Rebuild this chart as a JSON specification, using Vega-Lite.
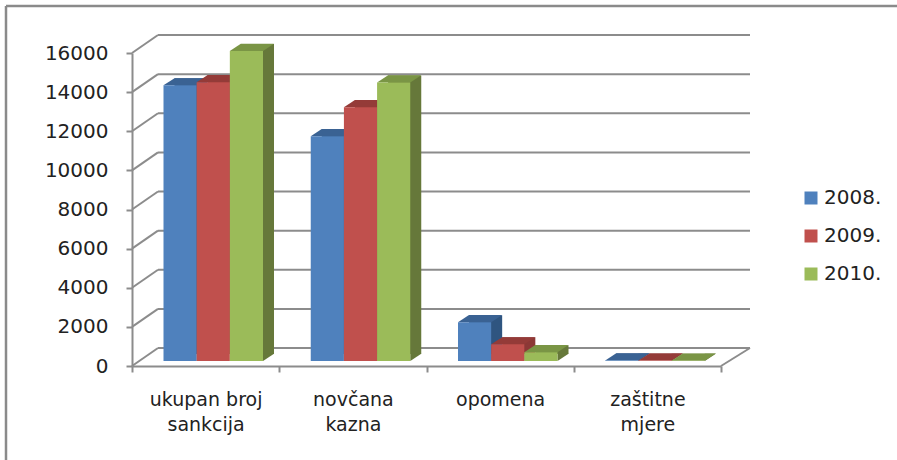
{"$schema":"https://vega.github.io/schema/vega-lite/v6.json","width":891,"height":454,"autosize":"none","padding":{"left":6,"top":6,"right":0,"bottom":0},"background":"white",
"config":{"view":{"stroke":"#8a8a8a","strokeWidth":2.5,"strokeDash":[891,1345,454,0]},"font":"DejaVu Sans"},
"datasets":{"bars":[
{"category":"ukupan broj sankcija","year":"2008.","value":14090},{"category":"ukupan broj sankcija","year":"2009.","value":14250},{"category":"ukupan broj sankcija","year":"2010.","value":15850},
{"category":"novčana kazna","year":"2008.","value":11490},{"category":"novčana kazna","year":"2009.","value":12970},{"category":"novčana kazna","year":"2010.","value":14240},
{"category":"opomena","year":"2008.","value":1980},{"category":"opomena","year":"2009.","value":850},{"category":"opomena","year":"2010.","value":450},
{"category":"zaštitne mjere","year":"2008.","value":30},{"category":"zaštitne mjere","year":"2009.","value":20},{"category":"zaštitne mjere","year":"2010.","value":15}],
"ticks":[{"v":0},{"v":2000},{"v":4000},{"v":6000},{"v":8000},{"v":10000},{"v":12000},{"v":14000},{"v":16000}]},
"layer":[
{"data":{"name":"ticks"},"mark":{"type":"rule","stroke":"#8c8c8c","strokeWidth":2},
"encoding":{"x":{"datum":0,"type":"quantitative","scale":{"domain":[0,1],"range":[152,744]},"axis":null},"x2":{"datum":1},
"y":{"field":"v","type":"quantitative","scale":{"domain":[0,16000],"range":[342,29],"nice":false},"axis":null}}},
{"data":{"name":"ticks"},"mark":{"type":"rule","stroke":"#8c8c8c","strokeWidth":2,"y2Offset":-18},
"encoding":{"x":{"datum":0,"type":"quantitative","scale":{"domain":[0,1],"range":[126,152]},"axis":null},"x2":{"datum":1},
"y":{"field":"v","type":"quantitative","scale":{"domain":[0,16000],"range":[360,47],"nice":false},
"axis":{"orient":"left","offset":-126,"title":null,"grid":false,"values":[0,2000,4000,6000,8000,10000,12000,14000,16000],"format":"d","domainColor":"#8c8c8c","domainWidth":2,"tickColor":"#8c8c8c","tickWidth":2,"tickSize":6,"labelPadding":18,"labelFontSize":20,"labelColor":"#222222"}},
"y2":{"field":"v"}}},
{"data":{"values":[{"v":0}]},"mark":{"type":"rule","stroke":"#8c8c8c","strokeWidth":2,"y2Offset":-18},
"encoding":{"x":{"datum":0,"type":"quantitative","scale":{"domain":[0,1],"range":[715,744]},"axis":null},"x2":{"datum":1},
"y":{"field":"v","type":"quantitative","scale":{"domain":[0,16000],"range":[360,47],"nice":false},"axis":null},"y2":{"field":"v"}}},
{"data":{"name":"bars"},"mark":{"type":"bar"},
"encoding":{"x":{"field":"category","type":"nominal","sort":null,"scale":{"domain":["ukupan broj sankcija","novčana kazna","opomena","zaštitne mjere"],"range":[126,715],"paddingInner":0,"paddingOuter":0},"axis":null},
"xOffset":{"field":"year","type":"nominal","scale":{"domain":["2008.","2009.","2010."],"range":[42.5,142],"paddingInner":0,"paddingOuter":0}},
"y":{"field":"value","type":"quantitative","scale":{"domain":[0,16000],"range":[348,35],"nice":false},"axis":null},
"color":{"field":"year","type":"nominal","legend":null,"scale":{"domain":["2008.","2009.","2010."],"range":["#2f5580","#8c3836","#66783a"]}}}},
{"data":{"name":"bars"},"mark":{"type":"point","filled":true,"opacity":1,"size":400,"shape":"M1.66 0L2.76 -0.72L1.66 -0.72Z"},
"encoding":{"x":{"field":"category","type":"nominal","sort":null,"scale":{"domain":["ukupan broj sankcija","novčana kazna","opomena","zaštitne mjere"],"range":[126,715],"paddingInner":0,"paddingOuter":0},"axis":null},
"xOffset":{"field":"year","type":"nominal","scale":{"domain":["2008.","2009.","2010."],"range":[31.5,131]}},
"y":{"datum":0,"type":"quantitative","scale":{"domain":[0,16000],"range":[355,42],"nice":false},"axis":null},
"color":{"field":"year","type":"nominal","legend":null,"scale":{"domain":["2008.","2009.","2010."],"range":["#2f5580","#8c3836","#66783a"]}}}},
{"data":{"name":"bars"},"mark":{"type":"point","filled":true,"opacity":1,"size":400,"shape":"M-1.66 0L1.66 0L2.76 -0.72L-0.56 -0.72Z"},
"encoding":{"x":{"field":"category","type":"nominal","sort":null,"scale":{"domain":["ukupan broj sankcija","novčana kazna","opomena","zaštitne mjere"],"range":[126,715],"paddingInner":0,"paddingOuter":0},"axis":null},
"xOffset":{"field":"year","type":"nominal","scale":{"domain":["2008.","2009.","2010."],"range":[31.5,131]}},
"y":{"field":"value","type":"quantitative","scale":{"domain":[0,16000],"range":[355,42],"nice":false},"axis":null},
"color":{"field":"year","type":"nominal","legend":null,"scale":{"domain":["2008.","2009.","2010."],"range":["#3a6293","#943b38","#7a9545"]}}}},
{"data":{"name":"bars"},"mark":{"type":"bar"},
"encoding":{"x":{"field":"category","type":"nominal","sort":null,"scale":{"domain":["ukupan broj sankcija","novčana kazna","opomena","zaštitne mjere"],"range":[126,715],"paddingInner":0,"paddingOuter":0},
"axis":{"orient":"bottom","offset":-94,"title":null,"labelAngle":0,"tickBand":"extent","domainColor":"#8c8c8c","domainWidth":2,"tickColor":"#8c8c8c","tickWidth":2,"tickSize":6,"labelPadding":18,"labelFontSize":19,"labelLineHeight":25,"labelColor":"#222222","labelLimit":200,"labelExpr":"!isValid(datum.value)?'':datum.value=='ukupan broj sankcija'?['ukupan broj','sankcija']:split(datum.value,' ')"}},
"xOffset":{"field":"year","type":"nominal","scale":{"domain":["2008.","2009.","2010."],"range":[31.5,131],"paddingInner":0,"paddingOuter":0}},
"y":{"field":"value","type":"quantitative","scale":{"domain":[0,16000],"range":[355,42],"nice":false},"axis":null},
"color":{"field":"year","type":"nominal","scale":{"domain":["2008.","2009.","2010."],"range":["#4f81bd","#c0504d","#9bbb59"]},
"legend":{"orient":"none","legendX":795,"legendY":182,"title":null,"symbolType":"square","symbolSize":169,"symbolStrokeWidth":0,"labelFontSize":20,"labelColor":"#222222","rowPadding":18,"labelOffset":3}}}}
],
"resolve":{"scale":{"x":"independent","y":"independent","color":"independent","xOffset":"independent"}}}
